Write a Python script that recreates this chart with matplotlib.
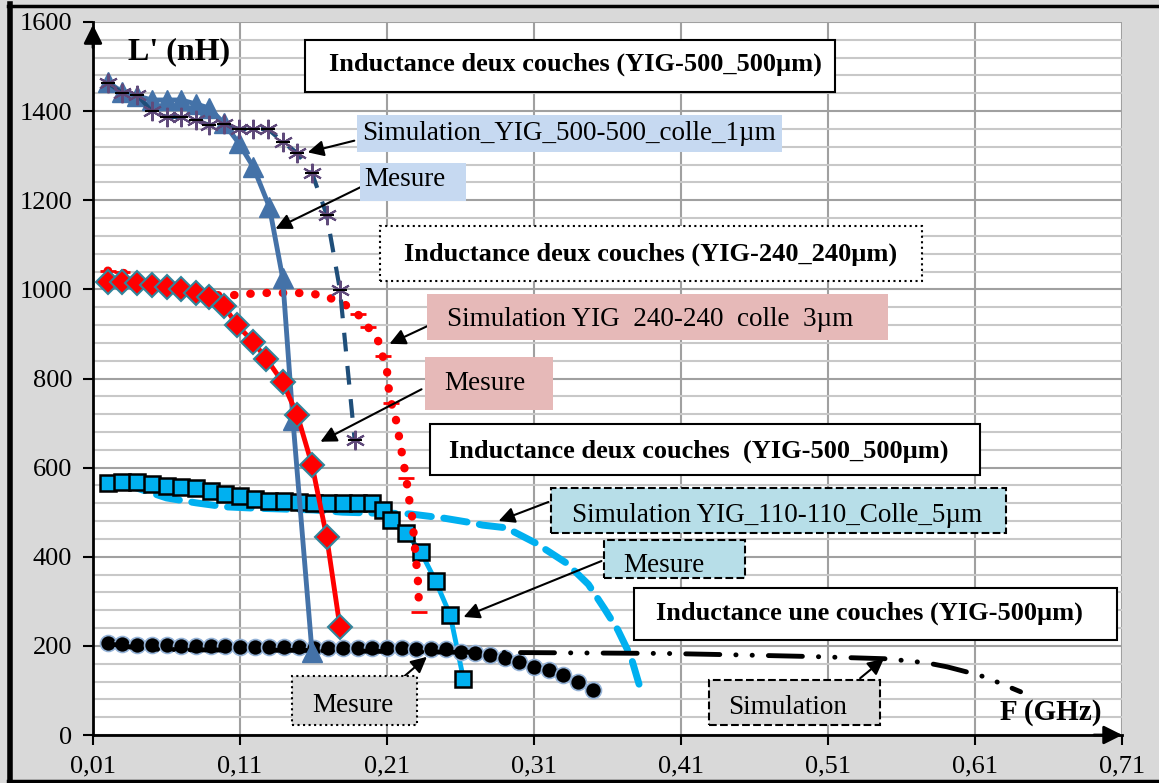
import matplotlib
matplotlib.use('Agg')
import matplotlib.pyplot as plt
from matplotlib.patches import Rectangle
from matplotlib.ticker import MultipleLocator
from matplotlib.lines import Line2D

plt.rcParams['font.family'] = ['Liberation Serif', 'DejaVu Serif']

# ---- data : F (GHz), L' (nH) ----
# deux couches YIG-500_500 : mesure
f_m500 = [0.02, 0.03, 0.04, 0.05, 0.06, 0.07, 0.08, 0.089, 0.099, 0.109, 0.119, 0.13, 0.139, 0.146, 0.159]
L_m500 = [1465, 1443, 1434, 1425, 1425, 1425, 1416, 1407, 1373, 1329, 1275, 1185, 1026, 707, 186]
# simulation YIG_500-500 colle 1um
f_s500 = [0.02, 0.03, 0.04, 0.05, 0.06, 0.07, 0.08, 0.089, 0.099, 0.109, 0.119, 0.129, 0.139, 0.149, 0.159, 0.169, 0.178, 0.188]
L_s500 = [1463, 1441, 1436, 1400, 1387, 1387, 1380, 1369, 1371, 1360, 1360, 1360, 1331, 1306, 1261, 1167, 999, 662]
# deux couches YIG-240_240 : mesure
f_m240 = [0.02, 0.03, 0.04, 0.05, 0.06, 0.07, 0.08, 0.089, 0.099, 0.108, 0.119, 0.128, 0.139, 0.149, 0.159, 0.169, 0.178]
L_m240 = [1017, 1017, 1014, 1010, 1005, 1001, 992, 983, 963, 920, 882, 844, 792, 718, 606, 444, 242]
# simulation YIG 240-240 colle 3um
f_s240 = [0.02, 0.03, 0.05, 0.07, 0.094, 0.105, 0.116, 0.128, 0.139, 0.149, 0.16, 0.171, 0.181, 0.19, 0.197, 0.204,
          0.207, 0.21, 0.211, 0.213, 0.216, 0.218, 0.22, 0.223, 0.225, 0.227, 0.228, 0.229, 0.23, 0.231, 0.2315, 0.232]
L_s240 = [1042, 1038, 1012, 993, 987, 987, 990, 992, 992, 992, 990, 981, 967, 945, 916, 884,
          851, 817, 781, 745, 709, 673, 635, 577, 530, 492, 456, 420, 384, 348, 312, 276]
# YIG-110 : mesure
f_m110 = [0.02, 0.03, 0.04, 0.05, 0.06, 0.07, 0.08, 0.09, 0.10, 0.11, 0.12, 0.13, 0.14, 0.15, 0.16, 0.17, 0.18, 0.19, 0.20,
          0.207, 0.213, 0.223, 0.233, 0.243, 0.253, 0.262]
L_m110 = [566, 568, 568, 563, 559, 557, 554, 548, 541, 536, 530, 525, 525, 523, 521, 521, 521, 521, 521,
          505, 482, 453, 411, 346, 269, 126]
# simulation YIG_110-110 colle 5um
f_s110 = [0.03, 0.04, 0.06, 0.08, 0.10, 0.12, 0.14, 0.16, 0.18, 0.20, 0.21, 0.226, 0.248, 0.268, 0.275, 0.291,
          0.311, 0.332, 0.347, 0.358, 0.367, 0.376, 0.382]
L_s110 = [566, 554, 532, 521, 512, 509, 507, 505, 500, 498, 498, 496, 487, 476, 471, 465,
          431, 386, 338, 283, 236, 175, 108]
# une couche YIG-500 : mesure
f_m1 = [0.02, 0.03, 0.04, 0.05, 0.06, 0.07, 0.08, 0.09, 0.10, 0.11, 0.12, 0.13, 0.14, 0.15, 0.16, 0.17, 0.18,
        0.19, 0.20, 0.21, 0.22, 0.23, 0.24, 0.25, 0.26, 0.27, 0.28, 0.29, 0.30, 0.31, 0.32, 0.33, 0.34, 0.35]
L_m1 = [206, 204, 203, 202, 201, 200, 200, 199, 199, 198, 198, 197, 197, 197, 196, 196, 196,
        196, 196, 195, 195, 194, 194, 192, 186, 184, 180, 173, 164, 153, 146, 135, 119, 101]
# une couche : simulation
f_s1 = [0.02, 0.045, 0.08, 0.15, 0.20, 0.25, 0.30, 0.35, 0.40, 0.445, 0.50, 0.55, 0.577, 0.591, 0.605, 0.617, 0.641]
L_s1 = [205, 193, 191, 190, 188, 186, 185, 184, 183, 180, 176, 171, 162, 153, 141, 130, 97]

x_ticks = [0.01, 0.11, 0.21, 0.31, 0.41, 0.51, 0.61, 0.71]
y_ticks = [0, 200, 400, 600, 800, 1000, 1200, 1400, 1600]

W, H = 1159, 783
fig = plt.figure(figsize=(W / 100, H / 100), dpi=100, facecolor='#d9d9d9')
ax = fig.add_axes([93 / W, 1 - 735 / H, (1122 - 93) / W, (735 - 22) / H])

# curves
ax.plot(f_s110, L_s110, color='#00b0f0', lw=5, linestyle=(0, (3.4, 1.8)), dash_capstyle='round', zorder=2)
ax.plot(f_m110, L_m110, color='#00b0f0', lw=3.5, marker='s', ms=11, mfc='#00b0f0', mec='black', mew=1.8, zorder=3)
ax.plot(f_m1, L_m1, color='black', lw=1, marker='o', ms=11.5, mfc='black', mec='#95b3d7', mew=1.2, zorder=3)
ax.plot(f_s1, L_s1, color='black', lw=3.5, linestyle=(0, (7, 3.3, 0.05, 3.3, 0.05, 3.3)),
        dash_capstyle='round', zorder=4)
ax.plot(f_s240, L_s240, color='red', lw=6, linestyle=(0, (0.05, 1.9)), dash_capstyle='round', zorder=4)
ax.plot(f_s240, L_s240, color='red', lw=0, marker='_', ms=12, mew=2, markevery=[0, 1, 13, 14, 16, 19, 23, 31], zorder=4)
ax.plot(f_m500, L_m500, color='#4472a8', lw=3.5, marker='^', ms=15, mfc='#4472a8', mec='#4472a8', zorder=5)
ax.plot(f_m240, L_m240, color='red', lw=3.5, marker='D', ms=12, mfc='red', mec='#31859c', mew=1.5, zorder=6)
ax.plot(f_s500, L_s500, color='#1f4e79', lw=3, linestyle=(0, (4.5, 3.5)), zorder=7)
ax.plot(f_s500, L_s500, lw=0, marker=(6, 2, 0), ms=14, mec='#604a7b', mew=1.5, zorder=8)
ax.plot(f_s500, L_s500, lw=0, marker='_', ms=10, mec='black', mew=1.5, zorder=8)

# axes
ax.set_xlim(0.01, 0.71)
ax.set_ylim(0, 1600)
ax.set_xticks(x_ticks)
ax.set_xticklabels([('%.2f' % v).replace('.', ',') for v in x_ticks])
ax.set_yticks(y_ticks)
ax.set_yticklabels([str(v) for v in y_ticks])
ax.yaxis.set_minor_locator(MultipleLocator(40))
ax.tick_params(which='major', labelsize=19, length=7, width=1.5, pad=8, direction='out')
ax.tick_params(which='minor', length=0)
ax.grid(which='major', color='#a0a0a0', lw=1.5, zorder=0)
ax.grid(which='minor', axis='y', color='#c8c8c8', lw=1.5, zorder=0)
ax.set_axisbelow(True)
for s in ['top', 'right']:
    ax.spines[s].set_visible(False)
for s in ['left', 'bottom']:
    ax.spines[s].set_linewidth(2)
ax.annotate('', xy=(0, 1.0), xytext=(0, 0.96), xycoords='axes fraction',
            arrowprops=dict(arrowstyle='-|>', color='black', lw=2, mutation_scale=28))
ax.annotate('', xy=(1.003, 0), xytext=(0.97, 0), xycoords='axes fraction',
            arrowprops=dict(arrowstyle='-|>', color='black', lw=2, mutation_scale=28))


def fx(px):
    return px / W


def fy(py):
    return 1 - py / H


def box(x0, y0, x1, y1, fc, ls='-', edge=True):
    r = Rectangle((fx(x0), fy(y1)), fx(x1) - fx(x0), fy(y0) - fy(y1), transform=fig.transFigure,
                  facecolor=fc, edgecolor='black' if edge else 'none', linestyle=ls, lw=1.5)
    fig.add_artist(r)


def label(x, y, s, size=19.5, bold=False, ha='left'):
    fig.text(fx(x), fy(y), s, fontsize=size, fontweight='bold' if bold else 'normal', ha=ha, va='center')


def arrow(x0, y0, x1, y1):
    ax.annotate('', xy=(x1, H - y1), xytext=(x0, H - y0), xycoords='figure pixels',
                textcoords='figure pixels',
                arrowprops=dict(arrowstyle='-|>', color='black', lw=1.5, mutation_scale=24), zorder=9)


# text boxes
box(305, 40, 835, 92, 'white')
label(575, 64, 'Inductance deux couches (YIG-500_500µm)', size=19, bold=True, ha='center')
box(357, 115, 782, 152, '#c6d9f1', edge=False)
label(362, 133, 'Simulation_YIG_500-500_colle_1µm')
box(360, 163, 466, 201, '#c6d9f1', edge=False)
label(364, 180, 'Mesure')
box(380, 226, 922, 281, 'white', ls=':')
label(651, 254, 'Inductance deux couches (YIG-240_240µm)', size=19, bold=True, ha='center')
box(427, 294, 888, 340, '#e6b9b8', edge=False)
label(447, 320, 'Simulation YIG  240-240  colle  3µm')
box(425, 357, 553, 410, '#e6b9b8', edge=False)
label(444, 384, 'Mesure')
box(430, 424, 980, 475, 'white')
label(449, 451, 'Inductance deux couches  (YIG-500_500µm)', size=19, bold=True)
box(551, 488, 1006, 533, '#b7dee8', ls='--')
label(572, 515, 'Simulation YIG_110-110_Colle_5µm')
box(604, 540, 745, 578, '#b7dee8', ls='--')
label(623, 566, 'Mesure')
box(634, 588, 1117, 640, 'white')
label(656, 613, 'Inductance une couches (YIG-500µm)', size=19, bold=True)
box(709, 680, 880, 725, '#d9d9d9', ls='--')
label(728, 707, 'Simulation')
box(292, 676, 417, 725, '#d9d9d9', ls=':')
label(312, 705, 'Mesure')
label(128, 52, "L' (nH)", size=23, bold=True)
label(1000, 713, 'F (GHz)', size=21, bold=True)

arrow(357, 140, 305, 153)
arrow(365, 185, 273, 230)
arrow(434, 323, 387, 345)
arrow(424, 388, 318, 443)
arrow(551, 501, 496, 522)
arrow(604, 560, 461, 618)
arrow(858, 680, 886, 657)
arrow(400, 680, 429, 655)

# outer frame
fig.add_artist(Line2D([fx(9.5), fx(9.5)], [fy(4), fy(783)], color='black', lw=4, transform=fig.transFigure))
fig.add_artist(Line2D([fx(8), fx(1159)], [fy(6), fy(6)], color='black', lw=2.5, transform=fig.transFigure))
fig.add_artist(Line2D([fx(8), fx(1159)], [fy(781), fy(781)], color='black', lw=2.5, transform=fig.transFigure))

fig.savefig('out.png', dpi=100, facecolor=fig.get_facecolor())
